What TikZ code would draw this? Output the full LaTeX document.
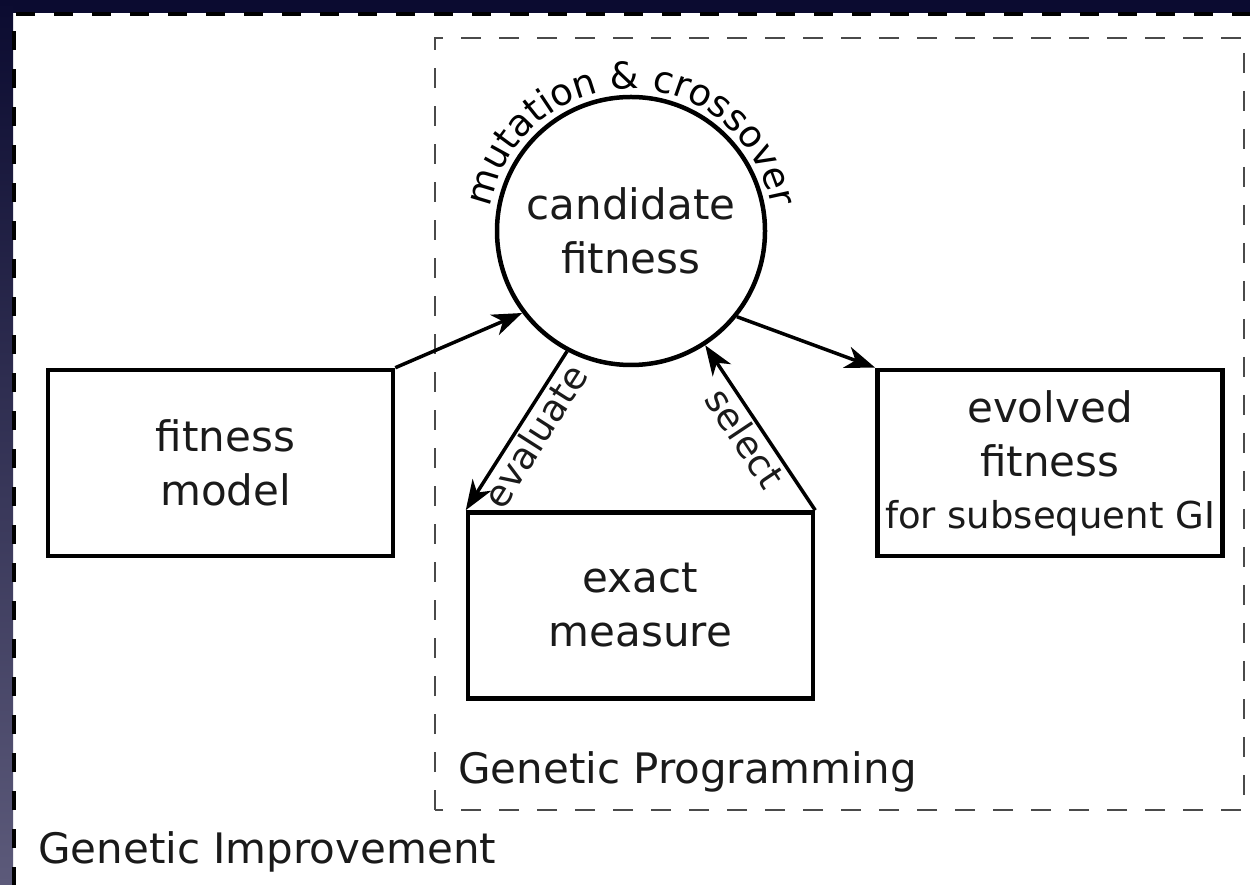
\documentclass[tikz,border=0pt]{standalone}
\usepackage{fontspec}
\setmainfont{DejaVu Sans}
\usetikzlibrary{arrows.meta,decorations.text}
\definecolor{navytop}{HTML}{0B0B30}
\definecolor{navybot}{HTML}{5C5A7A}
\definecolor{dashgray}{HTML}{4A4A4A}
\definecolor{inkcol}{HTML}{1A1A1A}
\newcommand{\bigfnt}{\fontsize{42}{54}\selectfont}
\newcommand{\smallfnt}{\fontsize{37}{44}\selectfont}
\begin{document}
\begin{tikzpicture}[x=1pt,y=1pt,
  boxnode/.style={draw=black, line width=4.5pt, minimum width=345pt, minimum height=186pt, inner sep=0pt, align=center, font=\bigfnt, text=inkcol},
  arrowline/.style={line width=3.5pt, -{Stealth[length=30pt,width=22pt,inset=9pt]}},
  lbl/.style={font=\smallfnt, sloped, below, inner sep=2pt, text=inkcol},
  plainlbl/.style={anchor=base west, font=\bigfnt, inner sep=0pt, text=inkcol},
]
\useasboundingbox (0,0) rectangle (1250,884);
\clip (0,0) rectangle (1250,884);
\fill[white] (0,0) rectangle (1250,884);
\fill[navytop] (0,871) rectangle (1250,884);
\shade[top color=navytop, bottom color=navybot] (0,0) rectangle (13,884);
% Genetic Improvement frame
\draw[line width=4pt, dash pattern=on 19pt off 19pt] (14,-40) -- (14,870) -- (1300,870);
% Genetic Programming frame
\draw[dashgray, line width=2.8pt, dash pattern=on 20pt off 18pt] (435,74) rectangle (1244,846);
% nodes
\node[circle, draw=black, line width=4.5pt, minimum size=268pt, inner sep=0pt, align=center, font=\bigfnt, text=inkcol] (cf) at (631,653) {candidate\\fitness};
\path[decorate, decoration={text along path, text={|\smallfnt|mutation {\&} crossover}, text align=center}]
  (631,653) ++(180:142) arc[start angle=180, end angle=0, radius=142];
\node[boxnode] (fm) at (220.5,421) {\hspace*{10pt}fitness\\\hspace*{10pt}model};
\node[boxnode] (ev) at (1050,421) {evolved\\fitness\\[-2pt]{\smallfnt for subsequent GI}};
\node[boxnode] (em) at (640.5,278.5) {exact\\measure};
% connectors
\draw[arrowline] (fm.north east) -- (cf.217);
\draw[arrowline] (cf.242) -- node[lbl, pos=0.47] (evallbl) {evaluate} (em.north west);
\draw[arrowline] (em.north east) -- node[lbl, pos=0.5] (sellbl) {select} (cf.303);
\draw[arrowline] (cf.-39) -- (ev.north west);
% frame labels
\node[plainlbl] (gplbl) at (458,101) {Genetic Programming};
\node[plainlbl] (gilbl) at (38,21) {Genetic Improvement};
\end{tikzpicture}
\end{document}
